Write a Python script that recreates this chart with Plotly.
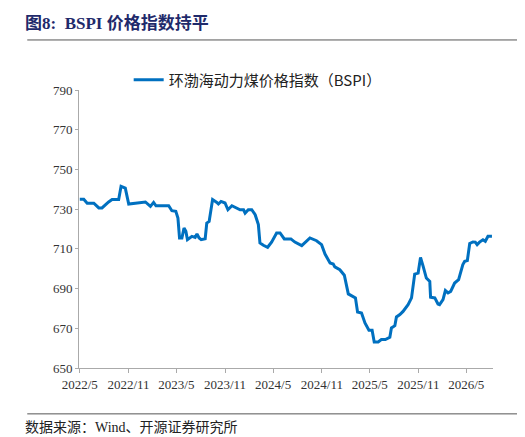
import plotly.graph_objects as go

dates = ["2022-05-01","2022-05-16","2022-05-29","2022-06-23","2022-07-12","2022-07-24","2022-08-18","2022-08-31","2022-09-25","2022-10-04","2022-10-20","2022-11-02",
"2023-01-04","2023-01-23","2023-02-04","2023-02-13","2023-04-02","2023-04-14","2023-04-29","2023-05-07","2023-05-13","2023-05-22","2023-05-30","2023-06-06","2023-06-12","2023-06-29","2023-07-11","2023-07-18","2023-07-26","2023-08-03","2023-08-18","2023-08-24","2023-09-02","2023-09-15","2023-10-01","2023-10-07","2023-10-17","2023-11-01","2023-11-12","2023-11-27","2023-12-28",
"2024-01-10","2024-01-16","2024-01-28","2024-02-10","2024-02-23","2024-03-06","2024-03-12","2024-03-25","2024-04-10","2024-04-25","2024-05-14","2024-05-27","2024-06-12","2024-07-07","2024-07-22","2024-08-17","2024-09-17","2024-10-12","2024-10-31","2024-11-13","2024-12-02","2024-12-14","2024-12-20",
"2025-01-08","2025-01-25","2025-02-09","2025-02-21","2025-03-08","2025-03-16","2025-03-31","2025-04-13","2025-04-28","2025-05-10","2025-05-18","2025-06-02","2025-06-14","2025-06-29","2025-07-16","2025-07-22","2025-08-04","2025-08-10","2025-08-23","2025-09-04","2025-09-23","2025-10-06","2025-10-18","2025-10-31","2025-11-09","2025-11-19","2025-12-01","2025-12-14","2025-12-17",
"2026-01-02","2026-01-14","2026-01-20","2026-02-02","2026-02-11","2026-02-21","2026-03-03","2026-03-18","2026-04-02","2026-04-18","2026-04-25","2026-05-05","2026-05-14","2026-05-26","2026-06-04","2026-06-11","2026-06-20","2026-07-03","2026-07-12","2026-07-22","2026-08-06"]
bspi = [735,735,733,733,730.6,730.6,733.6,734.8,734.8,741.5,740.6,732.6,
733.6,731.4,733.4,731.7,731.7,729.2,728.9,725.5,715.5,715.5,720.5,718.8,714.6,716.3,715.8,717.5,715.5,714.6,715.1,723.0,723.8,734.8,733.4,732.6,733.9,733.1,729.7,731.7,729.7,
729.7,728.0,729.7,729.7,727.2,722.2,713.0,711.8,710.8,713.4,718.0,718.0,715.0,715.0,713.4,711.6,715.5,714.1,712.1,707.4,702.9,702.4,700.9,
699.5,696.7,687.3,686.4,685.3,678.2,677.7,672.7,669.0,669.0,663.1,663.1,664.3,664.3,665.5,670.2,671.3,675.7,676.9,678.5,681.9,685.3,697.3,697.8,705.7,701.2,695.3,693.6,685.6,
685.3,682.2,681.9,684.4,689.0,687.8,688.6,692.8,694.5,702.1,703.7,704.1,712.7,713.5,713.4,712.1,713.4,714.6,713.8,716.3,716.3]

tick_vals = ["2022-05-01","2022-11-01","2023-05-01","2023-11-01","2024-05-01","2024-11-01","2025-05-01","2025-11-01","2026-05-01"]
tick_text = ["2022/5","2022/11","2023/5","2023/11","2024/5","2024/11","2025/5","2025/11","2026/5"]

fig = go.Figure(go.Scatter(x=dates, y=bspi, mode="lines", name="环渤海动力煤价格指数（BSPI）",
                           line=dict(color="#0070C0", width=3)))
serif = "Liberation Serif, Noto Sans CJK SC"
fig.update_layout(
    width=525, height=437, paper_bgcolor="white", plot_bgcolor="white",
    margin=dict(l=71, r=40, t=82, b=77, autoexpand=False),
    font=dict(family=serif, size=13, color="#333"),
    showlegend=True,
    legend=dict(x=0.12, y=1.036, xanchor="left", yanchor="middle", orientation="h",
                font=dict(family="Noto Sans CJK SC", size=15, color="#222"), bgcolor="rgba(0,0,0,0)"),
    xaxis=dict(type="date", range=["2022-04-28","2026-08-10"], tickvals=tick_vals, ticktext=tick_text,
               showgrid=False, showline=True, linecolor="#aaa", ticks="outside", ticklen=4, tickcolor="#aaa",
               tickfont=dict(size=13, color="#333")),
    yaxis=dict(range=[650,790], tickvals=list(range(650,791,20)), showgrid=False, showline=True,
               linecolor="#aaa", ticks="outside", ticklen=3, tickcolor="#aaa", tickfont=dict(size=13, color="#333")),
    annotations=[
        dict(text="<b>图8:  BSPI 价格指数持平</b>", xref="paper", yref="paper", x=-0.135, y=1.28,
             xanchor="left", yanchor="top", showarrow=False,
             font=dict(family="Liberation Serif, Noto Sans CJK SC", size=17, color="#1F2A6B")),
        dict(text="数据来源：Wind、开源证券研究所", xref="paper", yref="paper", x=-0.135, y=-0.18,
             xanchor="left", yanchor="top", showarrow=False,
             font=dict(family="Liberation Serif, Noto Sans CJK SC", size=14, color="#222")),
    ],
    shapes=[
        dict(type="line", xref="paper", yref="paper", x0=-0.125, x1=1.09, y0=1.18, y1=1.18,
             line=dict(color="#555", width=1)),
        dict(type="line", xref="paper", yref="paper", x0=-0.125, x1=1.09, y0=-0.165, y1=-0.165,
             line=dict(color="#555", width=1)),
    ],
)
fig.write_html("out.html")
